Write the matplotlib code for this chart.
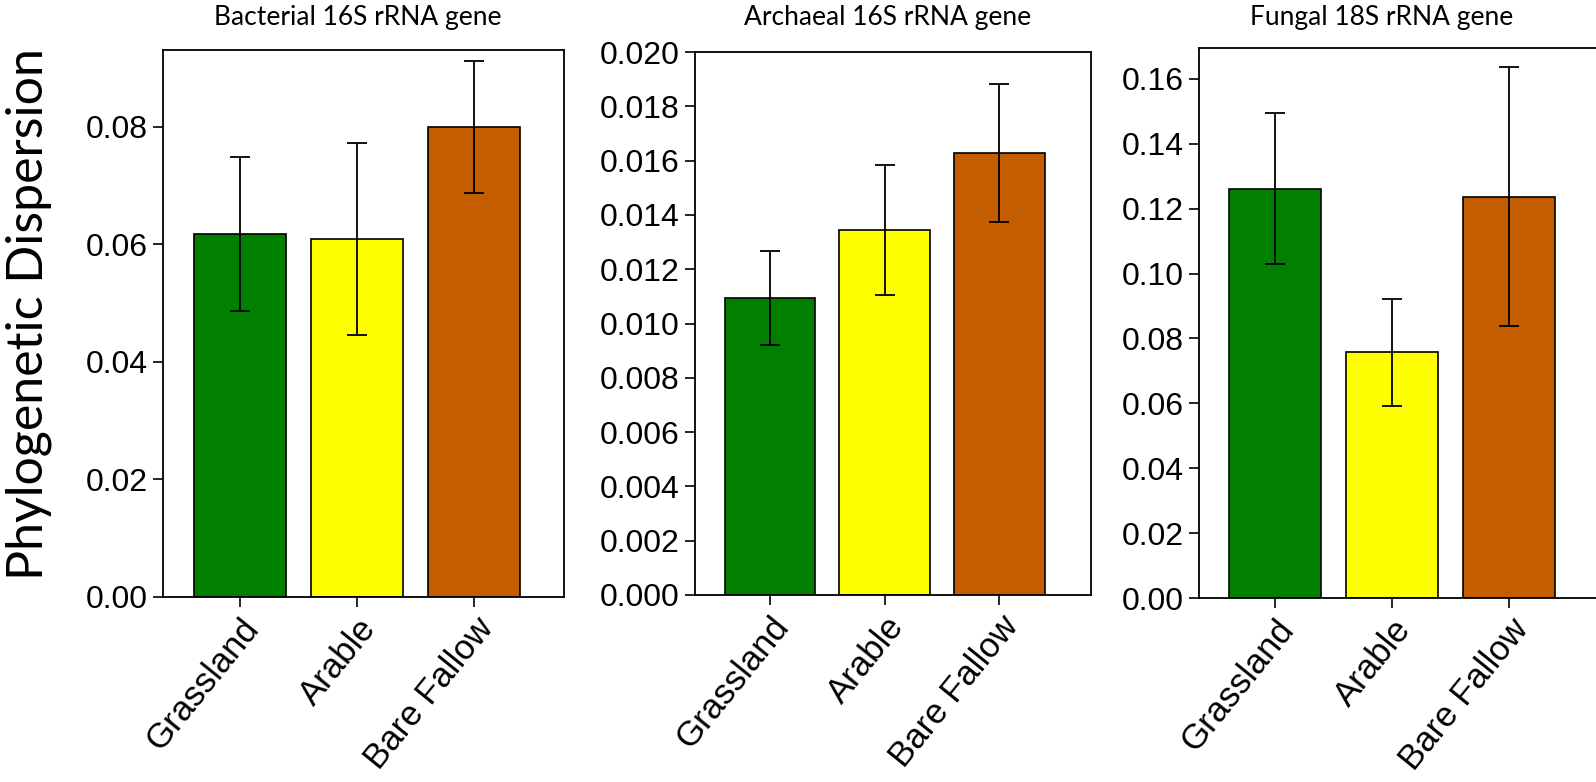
import matplotlib
matplotlib.use("Agg")
import matplotlib.pyplot as plt
import numpy as np

# data
sites = ["Grassland", "Arable", "Bare Fallow"]
colors = ["#007F00", "#FFFF00", "#C45C00"]

titles = ["Bacterial 16S rRNA gene", "Archaeal 16S rRNA gene", "Fungal 18S rRNA gene"]
bacterial = [0.0618, 0.0609, 0.0800]
bacterial_err = [0.0131, 0.0163, 0.0112]
archaeal = [0.01094, 0.01344, 0.01628]
archaeal_err = [0.00172, 0.00238, 0.00253]
fungal = [0.1262, 0.0757, 0.1237]
fungal_err = [0.0234, 0.0166, 0.0399]

W, H = 1596, 782
fig = plt.figure(figsize=(W / 100, H / 100), dpi=100)


def px_axes(left, right, top, bottom):
    return fig.add_axes([left / W, (H - bottom) / H, (right - left) / W, (bottom - top) / H])


panels = [
    dict(box=(163, 564, 50, 597), vals=bacterial, err=bacterial_err, ylim=0.0931,
         ticks=np.arange(0, 0.081, 0.02), fmt="%.2f", xlim=(-0.66, 2.77), title_x=358),
    dict(box=(695, 1091, 52, 595), vals=archaeal, err=archaeal_err, ylim=0.020,
         ticks=np.arange(0, 0.0201, 0.002), fmt="%.3f", xlim=(-0.655, 2.80), title_x=888),
    dict(box=(1199, 1597, 48, 598), vals=fungal, err=fungal_err, ylim=0.1695,
         ticks=np.arange(0, 0.161, 0.02), fmt="%.2f", xlim=(-0.65, 2.75), title_x=1382),
]

x = np.arange(len(sites))
for p, title in zip(panels, titles):
    ax = px_axes(*p["box"])
    ax.bar(x, p["vals"], width=0.79, color=colors, edgecolor="black", linewidth=1.2, zorder=2)
    ax.errorbar(x, p["vals"], yerr=p["err"], fmt="none", ecolor="black",
                elinewidth=1.3, capsize=7, capthick=1.3, zorder=3)
    ax.set_xlim(*p["xlim"])
    ax.set_ylim(0, p["ylim"])
    ax.set_yticks(p["ticks"])
    ax.set_yticklabels([p["fmt"] % t for t in p["ticks"]], family="Liberation Sans", fontsize=23)
    ax.set_xticks(x)
    ax.set_xticklabels(sites, rotation=51, ha="right", rotation_mode="anchor",
                       family="Liberation Sans", fontsize=25)
    ax.tick_params(axis="y", direction="out", length=7, width=1.2, pad=4, right=False)
    ax.tick_params(axis="x", direction="out", length=7, width=1.2, pad=4, top=False)
    for s in ax.spines.values():
        s.set_linewidth(1.3)
    fig.text(p["title_x"] / W, 1 - 17 / H, title, ha="center", va="center",
             family="Lato", fontsize=19)

fig.text(29 / W, 1 - 314 / H, "Phylogenetic Dispersion", rotation=90, ha="center",
         va="center", family="Lato", fontsize=36)

fig.savefig("out.png", dpi=100)
